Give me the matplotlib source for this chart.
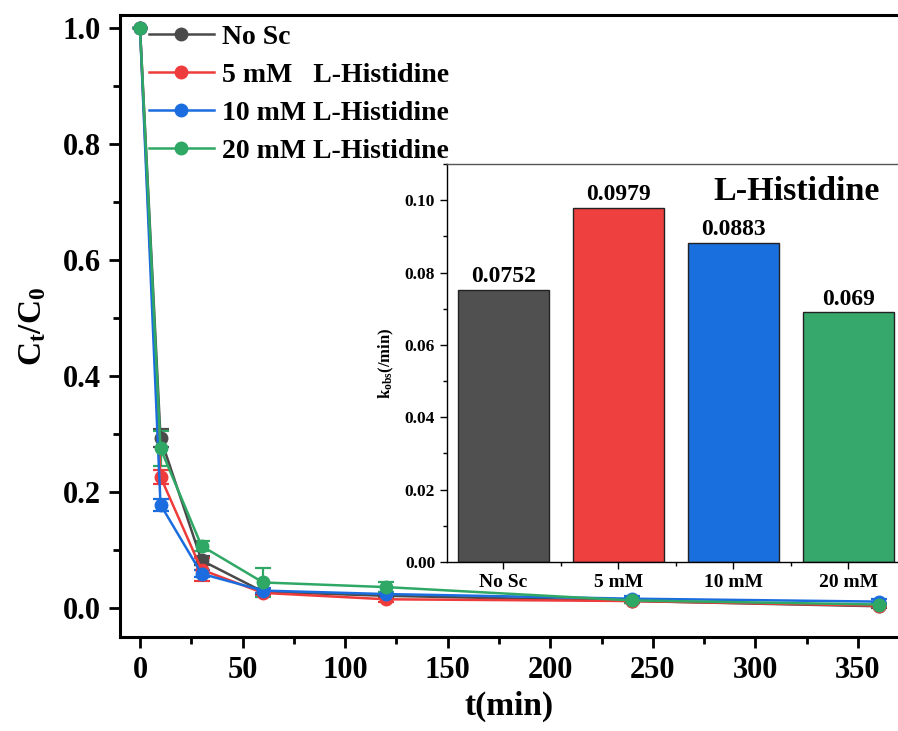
import numpy as np
import matplotlib
matplotlib.use("Agg")
import matplotlib.pyplot as plt
from matplotlib.ticker import MultipleLocator

plt.rcParams['font.family'] = ['Liberation Serif', 'DejaVu Serif']
plt.rcParams['font.weight'] = 'bold'
plt.rcParams['mathtext.fontset'] = 'custom'
plt.rcParams['mathtext.rm'] = 'Liberation Serif'
plt.rcParams['mathtext.bf'] = 'Liberation Serif:bold'
plt.rcParams['mathtext.it'] = 'Liberation Serif:italic'

# degradation kinetics
t = [0, 10, 30, 60, 120, 240, 360]
no_sc = [1.0, 0.293, 0.082, 0.028, 0.021, 0.012, 0.003]
no_sc_err = [0, 0.015, 0.008, 0.005, 0.004, 0.004, 0.003]
his5 = [1.0, 0.226, 0.066, 0.026, 0.015, 0.012, 0.004]
his5_err = [0, 0.012, 0.02, 0.005, 0.005, 0.004, 0.003]
his10 = [1.0, 0.178, 0.059, 0.030, 0.024, 0.016, 0.011]
his10_err = [0, 0.01, 0.006, 0.005, 0.004, 0.004, 0.004]
his20 = [1.0, 0.275, 0.107, 0.044, 0.036, 0.013, 0.006]
his20_err = [0, 0.03, 0.008, 0.025, 0.008, 0.004, 0.003]

series_labels = ['No Sc', '5 mM   L-Histidine', '10 mM L-Histidine', '20 mM L-Histidine']
line_colors = ['#4a4a4a', '#ee3b3b', '#1b6ddf', '#2fa866']

# rate constants
groups = ['No Sc', '5 mM', '10 mM', '20 mM']
kobs = [0.0752, 0.0979, 0.0883, 0.069]
bar_colors = ['#505050', '#ef4040', '#1a6fdf', '#36a86c']

W, H = 898, 731
fig = plt.figure(figsize=(W / 100, H / 100), dpi=100)

L, R, B, T = 120, 898, 637, 15
ax = fig.add_axes([L / W, 1 - B / H, (R - L) / W, (B - T) / H])

data = [(no_sc, no_sc_err), (his5, his5_err), (his10, his10_err), (his20, his20_err)]
for (y, e), lab, c in zip(data, series_labels, line_colors):
    ax.errorbar(t, y, yerr=e, color=c, lw=1.8, marker='o', ms=9,
                capsize=6, elinewidth=1.6, capthick=1.6, label=lab, clip_on=False)

ax.set_xlim(-9.75, 369.5)
ax.set_ylim(-0.05, 1.022)
ax.xaxis.set_major_locator(MultipleLocator(50))
ax.xaxis.set_minor_locator(MultipleLocator(25))
ax.yaxis.set_minor_locator(MultipleLocator(0.1))
ax.set_yticks([0.0, 0.2, 0.4, 0.6, 0.8, 1.0])
ax.set_yticklabels(['0.0', '0.2', '0.4', '0.6', '0.8', '1.0'])
ax.tick_params(which='major', direction='out', length=8, width=2, labelsize=22, pad=6)
ax.tick_params(which='minor', direction='out', length=5, width=2)
ax.tick_params(axis='x', top=False)
ax.tick_params(axis='y', right=False)
for lbl in ax.get_xticklabels() + ax.get_yticklabels():
    lbl.set_fontweight('bold')
for s in ['left', 'bottom', 'top']:
    ax.spines[s].set_linewidth(2.2)
ax.spines['right'].set_visible(False)

ax.set_xlabel('t(min)', fontsize=24, fontweight='bold', labelpad=4)
ax.set_ylabel(r'$\mathbf{C_t/C_0}$', fontsize=24, labelpad=10)

handles, labs = ax.get_legend_handles_labels()
handles = [h[0] for h in handles]
leg = ax.legend(handles, labs, loc='upper left', bbox_to_anchor=(0.037, 0.985),
                frameon=False, fontsize=20, handlelength=2.35, handletextpad=0.3,
                labelspacing=0.45, borderaxespad=0, borderpad=0)
for txt in leg.get_texts():
    txt.set_fontweight('bold')

# inset: rate constants
iL, iR, iB, iT = 447, 898, 562, 164
axi = fig.add_axes([iL / W, 1 - iB / H, (iR - iL) / W, (iB - iT) / H])
xpos = np.arange(len(groups))
axi.bar(xpos, kobs, width=0.79, color=bar_colors, edgecolor='#222222', linewidth=1.0)
for x, v in zip(xpos, kobs):
    axi.text(x, v + 0.0007, str(v), ha='center', va='bottom', fontsize=17, fontweight='bold')
axi.text(2.55, 0.1025, 'L-Histidine', ha='center', va='center', fontsize=24.5, fontweight='bold')

axi.set_xlim(-0.487, 3.43)
axi.set_ylim(0, 0.11)
axi.set_xticks(xpos)
axi.set_xticklabels(groups, fontsize=14, fontweight='bold')
axi.set_xticks(xpos[:-1] + 0.5, minor=True)
axi.yaxis.set_major_locator(MultipleLocator(0.02))
axi.yaxis.set_minor_locator(MultipleLocator(0.01))
axi.yaxis.set_major_formatter(matplotlib.ticker.FormatStrFormatter('%.2f'))
axi.tick_params(axis='y', labelsize=12.5)
axi.tick_params(which='major', direction='out', length=5, width=1)
axi.tick_params(which='minor', direction='out', length=3, width=1)
axi.tick_params(axis='y', right=False)
axi.tick_params(axis='x', top=False)
for lbl in axi.get_yticklabels():
    lbl.set_fontweight('bold')
for s in ['left', 'bottom']:
    axi.spines[s].set_linewidth(1.0)
axi.spines['top'].set_linewidth(1.0)
axi.spines['top'].set_color('#555555')
axi.spines['right'].set_visible(False)
axi.set_ylabel(r'$\mathbf{k_{obs}}$(/min)', fontsize=12, fontweight='bold', labelpad=6)

fig.savefig('out.png', dpi=100)
